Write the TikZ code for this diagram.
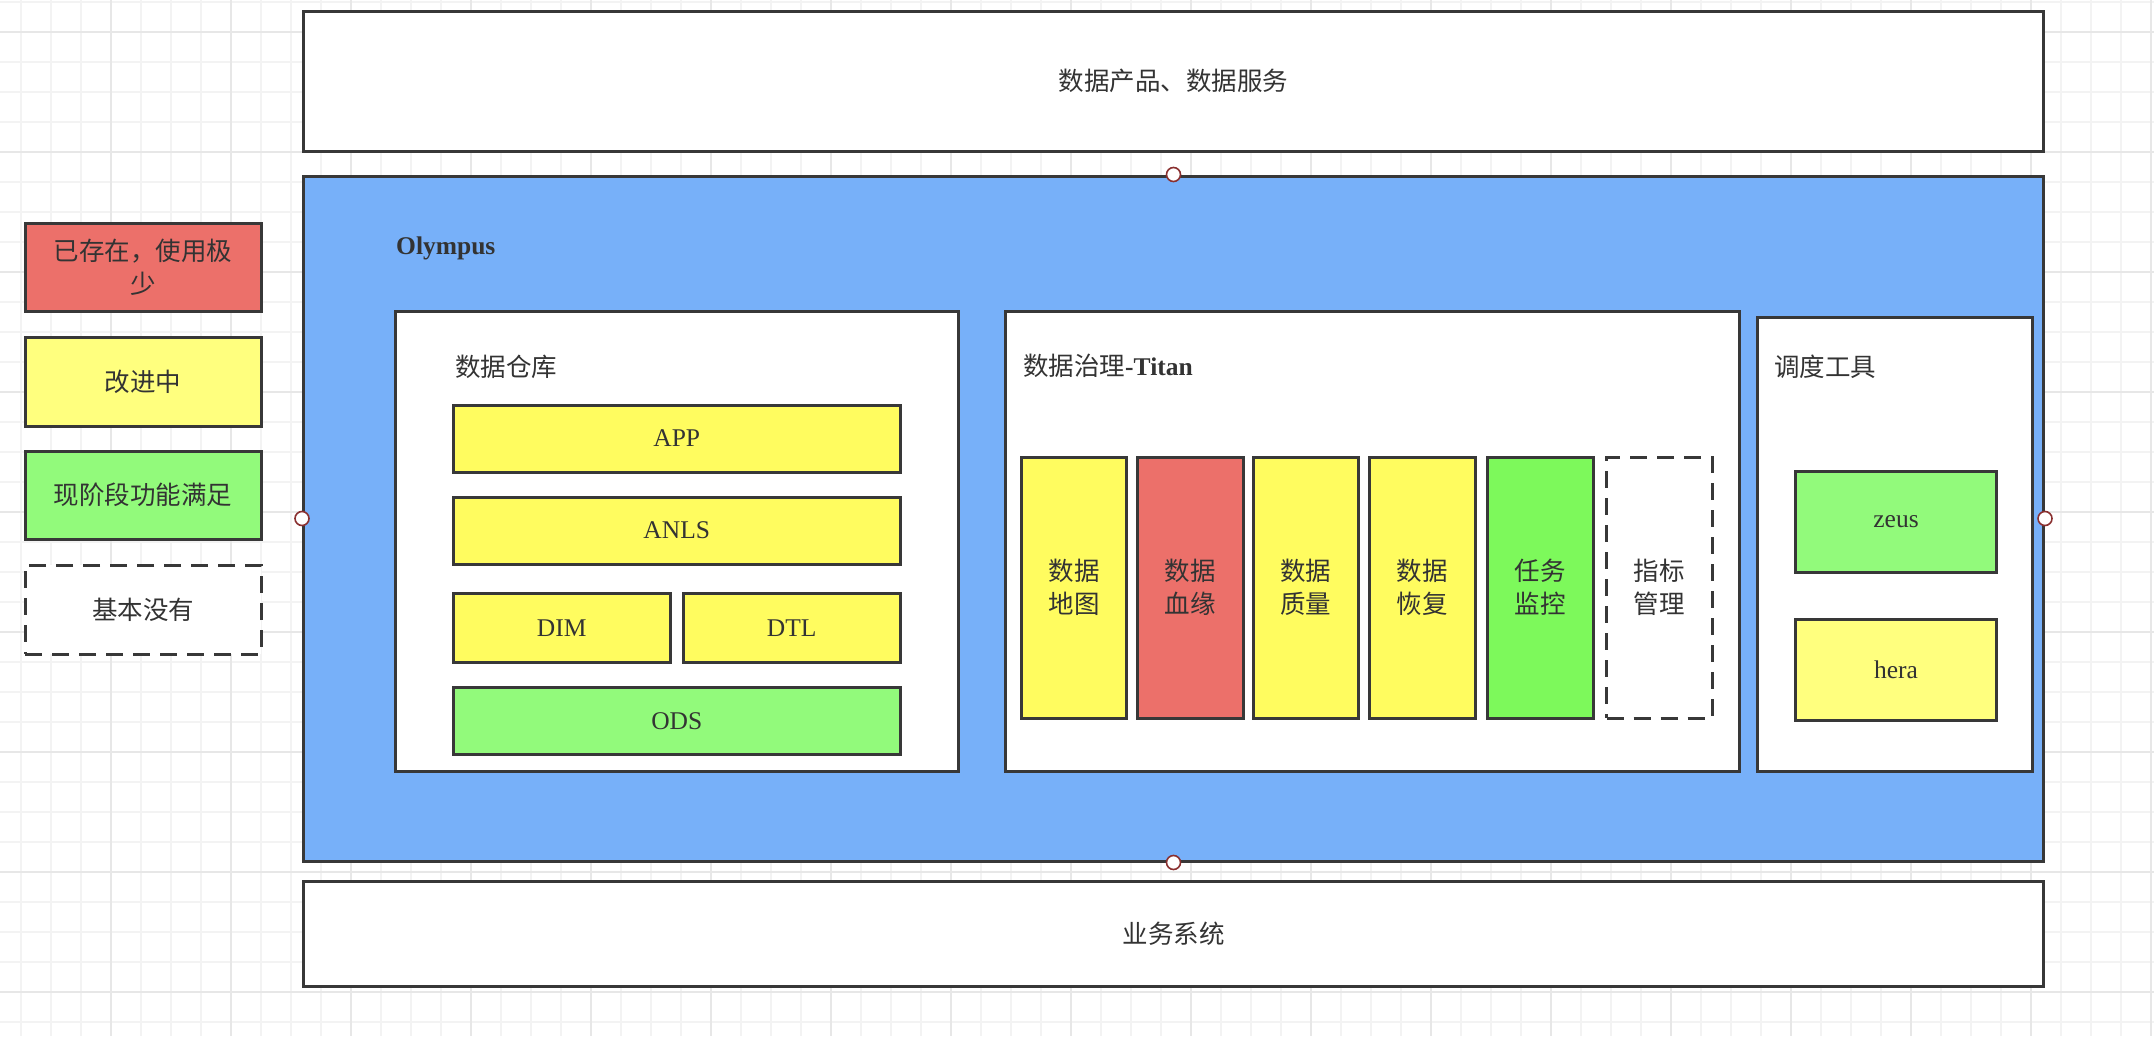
\documentclass[tikz,border=0pt]{standalone}
\usepackage{fontspec}
\setmainfont{Liberation Serif}
\newfontfamily\cjk{Noto Sans CJK SC}
\definecolor{olyblue}{HTML}{77B0F9}
\definecolor{redc}{HTML}{EC706A}
\definecolor{yelA}{HTML}{FFFC5F}
\definecolor{yelB}{HTML}{FFFF7E}
\definecolor{grnA}{HTML}{92FA7B}
\definecolor{grnB}{HTML}{7DF95B}
\definecolor{linec}{HTML}{383838}
\definecolor{txt}{HTML}{333333}
\definecolor{portc}{HTML}{8A3030}
\definecolor{gridminor}{HTML}{F3F3F3}
\definecolor{gridmajor}{HTML}{E7E7E7}
\newcommand\txtsize{\fontsize{25.5}{33}\selectfont}
% \boxnode[style]{name}{x1}{y1}{x2}{y2}{text}: rectangle given by its corners
\newcommand\boxnode[7][]{\node[box, #1, minimum width={(#5-#3)*1pt},
  minimum height={(#6-#4)*1pt}] (#2) at ({(#3+#5)/2},{(#4+#6)/2}) {#7};}
\begin{document}
\begin{tikzpicture}[x=1pt,y=-1pt,
  box/.style={draw=linec, line width=3pt, rectangle, inner sep=0pt,
    fill=white, text=txt, font=\txtsize, align=center},
  dashbox/.style={dash pattern=on 17pt off 10pt},
  label/.style={inner sep=0pt, text=txt, font=\txtsize},
  port/.style={circle, draw=portc, line width=1.6pt, fill=white,
    minimum size=14pt, inner sep=0pt}]

% canvas and grid
\useasboundingbox (0,0) rectangle (2154,1036);
\fill[white] (0,0) rectangle (2154,1036);
\foreach \gx in {21,51,...,2151} \draw[gridminor, line width=1.5pt] (\gx,0) -- (\gx,1036);
\foreach \gy in {2,32,...,1032} \draw[gridminor, line width=1.5pt] (0,\gy) -- (2154,\gy);
\foreach \gx in {111,231,...,2151} \draw[gridmajor, line width=1.5pt] (\gx,0) -- (\gx,1036);
\foreach \gy in {32,152,...,992} \draw[gridmajor, line width=1.5pt] (0,\gy) -- (2154,\gy);

% legend
\boxnode[fill=redc]{lgred}{25}{223}{261}{311}{\cjk 已存在，使用极\\\cjk 少}
\boxnode[fill=yelB]{lgyel}{25}{337}{261}{426}{\cjk 改进中}
\boxnode[fill=grnA]{lggrn}{25}{451}{261}{539}{\cjk 现阶段功能满足}
\boxnode[dashbox]{lgnone}{25}{565}{261}{654}{\cjk 基本没有}

% layers
\boxnode{top}{303.5}{11}{2043.5}{151.5}{\cjk 数据产品、数据服务}
\boxnode[fill=olyblue]{oly}{303.5}{176}{2043.5}{861}{}
\boxnode{bottom}{303.5}{881}{2043.5}{986}{\cjk 业务系统}
\node[label, anchor=base west] (olylabel) at (396,254) {\textbf{Olympus}};

% data warehouse
\boxnode{dw}{395}{311.7}{958}{771}{}
\node[label, anchor=west] (dwlabel) at (455,367) {\cjk 数据仓库};
\boxnode[fill=yelA]{app}{453}{405}{900.5}{472}{APP}
\boxnode[fill=yelA]{anls}{453}{497}{900.5}{564}{ANLS}
\boxnode[fill=yelA]{dim}{453}{593.5}{670.5}{662.5}{DIM}
\boxnode[fill=yelA]{dtl}{683}{593.5}{900.5}{662.5}{DTL}
\boxnode[fill=grnA]{ods}{453}{687.5}{900.5}{754}{ODS}

% data governance
\boxnode{titan}{1005}{311.7}{1739}{771}{}
\node[label, anchor=west] (titanlabel) at (1023,366) {{\cjk 数据治理}\textbf{-Titan}};
\boxnode[fill=yelA]{g1}{1021.5}{457}{1126.5}{718}{\cjk 数据\\\cjk 地图}
\boxnode[fill=redc]{g2}{1137}{457}{1243}{718}{\cjk 数据\\\cjk 血缘}
\boxnode[fill=yelA]{g3}{1253}{457}{1358.5}{718}{\cjk 数据\\\cjk 质量}
\boxnode[fill=yelA]{g4}{1369}{457}{1475.5}{718}{\cjk 数据\\\cjk 恢复}
\boxnode[fill=grnB]{g5}{1487}{457}{1593.5}{718}{\cjk 任务\\\cjk 监控}
\boxnode[dashbox]{g6}{1606.5}{457}{1712}{718}{\cjk 指标\\\cjk 管理}

% scheduling
\boxnode{sched}{1757.5}{317.3}{2032.5}{771}{}
\node[label, anchor=west] (schedlabel) at (1774,367) {\cjk 调度工具};
\boxnode[fill=grnA]{zeus}{1795.5}{471.5}{1996.5}{572.5}{zeus}
\boxnode[fill=yelB]{hera}{1795.5}{619}{1996.5}{720.5}{hera}

% connection points on the platform frame
\node[port] (pn) at (oly.north) {};
\node[port] (ps) at (oly.south) {};
\node[port] (pw) at (oly.west) {};
\node[port] (pe) at (oly.east) {};
\end{tikzpicture}
\end{document}
